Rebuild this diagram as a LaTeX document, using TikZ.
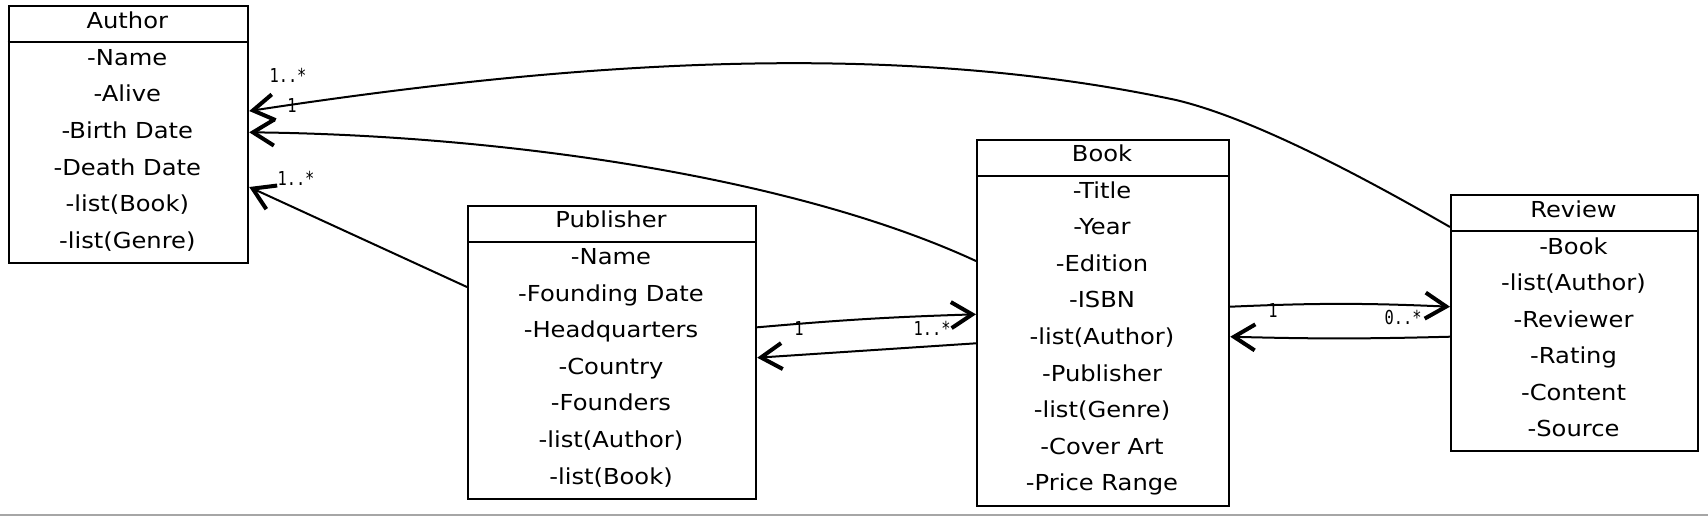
\documentclass[tikz,border=0pt]{standalone}
\usepackage{fontspec}
\setmainfont{DejaVu Sans}[FakeStretch=1.1]
\newfontfamily\multfont{DejaVu Sans Mono}[FakeStretch=0.8]
\usetikzlibrary{arrows.meta}
\usetikzlibrary{calc}
\usetikzlibrary{positioning}

\begin{document}
\begin{tikzpicture}[x=0.5pt,y=-0.5pt]

  \tikzset{CLS/.style={draw, line width=1.1pt, anchor=north west, inner sep=0pt}}
  \tikzset{ROW/.style={anchor=base, inner sep=0pt, font=\fontsize{11}{13}\selectfont}}
  \tikzset{MUL/.style={inner sep=0pt, font=\multfont\fontsize{9.6}{11}\selectfont}}
  \tikzset{ASC/.style={-{Straight Barb[length=10.5pt,width=13pt,line width=2pt]}, line width=1pt}}

  \useasboundingbox (0,0) rectangle (1708,516);
  \fill[white] (0,0) rectangle (1708,516);
  \draw[gray!70, line width=1pt] (0,515) -- (1708,515);

  % class boxes
  \node[CLS, minimum width=119.75pt, minimum height=128.5pt]  (author)    at (7.5,5)     {};
  \node[CLS, minimum width=144pt,    minimum height=146.25pt] (publisher) at (467,205)   {};
  \node[CLS, minimum width=126pt,    minimum height=182.75pt] (book)      at (976,139)   {};
  \node[CLS, minimum width=123.5pt,  minimum height=128pt]    (review)    at (1450,194)  {};

  \foreach \c in {author,publisher,book,review}
    \draw[line width=1.1pt] ($(\c.north west)+(0,37)$) -- ($(\c.north east)+(0,37)$);

  % Author
  \node[ROW] (author-h) at (127.3,28) {Author};
  \foreach \t [count=\i] in {-Name,-Alive,-Birth Date,-Death Date,-list(Book),-list(Genre)}
    \node[ROW] (author-\i) at (127.3,{65+36.67*(\i-1)}) {\t};

  % Publisher
  \node[ROW] (publisher-h) at (611,227) {Publisher};
  \foreach \t [count=\i] in {-Name,-Founding Date,-Headquarters,-Country,-Founders,-list(Author),-list(Book)}
    \node[ROW] (publisher-\i) at (611,{264.5+36.6*(\i-1)}) {\t};

  % Book
  \node[ROW] (book-h) at (1102,161) {Book};
  \foreach \t [count=\i] in {-Title,-Year,-Edition,-ISBN,-list(Author),-Publisher,-list(Genre),-Cover Art,-Price Range}
    \node[ROW] (book-\i) at (1102,{198+36.6*(\i-1)}) {\t};

  % Review
  \node[ROW] (review-h) at (1573.5,217.5) {Review};
  \foreach \t [count=\i] in {-Book,-list(Author),-Reviewer,-Rating,-Content,-Source}
    \node[ROW] (review-\i) at (1573.5,{254+36.5*(\i-1)}) {\t};

  % connector ends
  \coordinate (au-a) at ($(author.north east)+(0,106)$);
  \coordinate (au-b) at ($(author.north east)+(0,127.3)$);
  \coordinate (au-c) at ($(author.north east)+(0,182)$);
  \coordinate (pb-a) at ($(publisher.north west)+(0,82)$);
  \coordinate (pb-b) at ($(publisher.north east)+(0,122.3)$);
  \coordinate (pb-c) at ($(publisher.north east)+(0,152.7)$);
  \coordinate (bk-a) at ($(book.north west)+(0,122)$);
  \coordinate (bk-b) at ($(book.north west)+(0,175.3)$);
  \coordinate (bk-c) at ($(book.north west)+(0,204.3)$);
  \coordinate (bk-d) at ($(book.north east)+(0,167.7)$);
  \coordinate (bk-e) at ($(book.north east)+(0,197.7)$);
  \coordinate (rv-a) at ($(review.north west)+(0,33)$);
  \coordinate (rv-b) at ($(review.north west)+(0,112.7)$);
  \coordinate (rv-c) at ($(review.north west)+(0,142.7)$);

  % associations
  \draw[ASC] (rv-a) .. controls (1370,181) and (1256,119) .. (1176,100)
                    .. controls (876,36) and (546,66) .. (au-a);
  \draw[ASC] (bk-a) .. controls (790,175) and (496,135) .. (au-b);
  \draw[ASC] (pb-a) -- (au-c);
  \draw[ASC] (pb-b) to[bend left=1.6] (bk-b);
  \draw[ASC] (bk-c) -- (pb-c);
  \draw[ASC] (bk-d) to[bend left=2.5] (rv-b);
  \draw[ASC] (rv-c) to[bend left=1.5] (bk-e);

  % multiplicities
  \node[MUL] (m-au-a) at (288,75)   {1..*};
  \node[MUL] (m-au-b) at (292,105)  {1};
  \node[MUL] (m-au-c) at (296,178)  {1..*};
  \node[MUL] (m-pb-b) at (799,328)  {1};
  \node[MUL] (m-bk-b) at (932,328)  {1..*};
  \node[MUL] (m-bk-d) at (1273,310) {1};
  \node[MUL] (m-rv-b) at (1403,317) {0..*};
\end{tikzpicture}
\end{document}
